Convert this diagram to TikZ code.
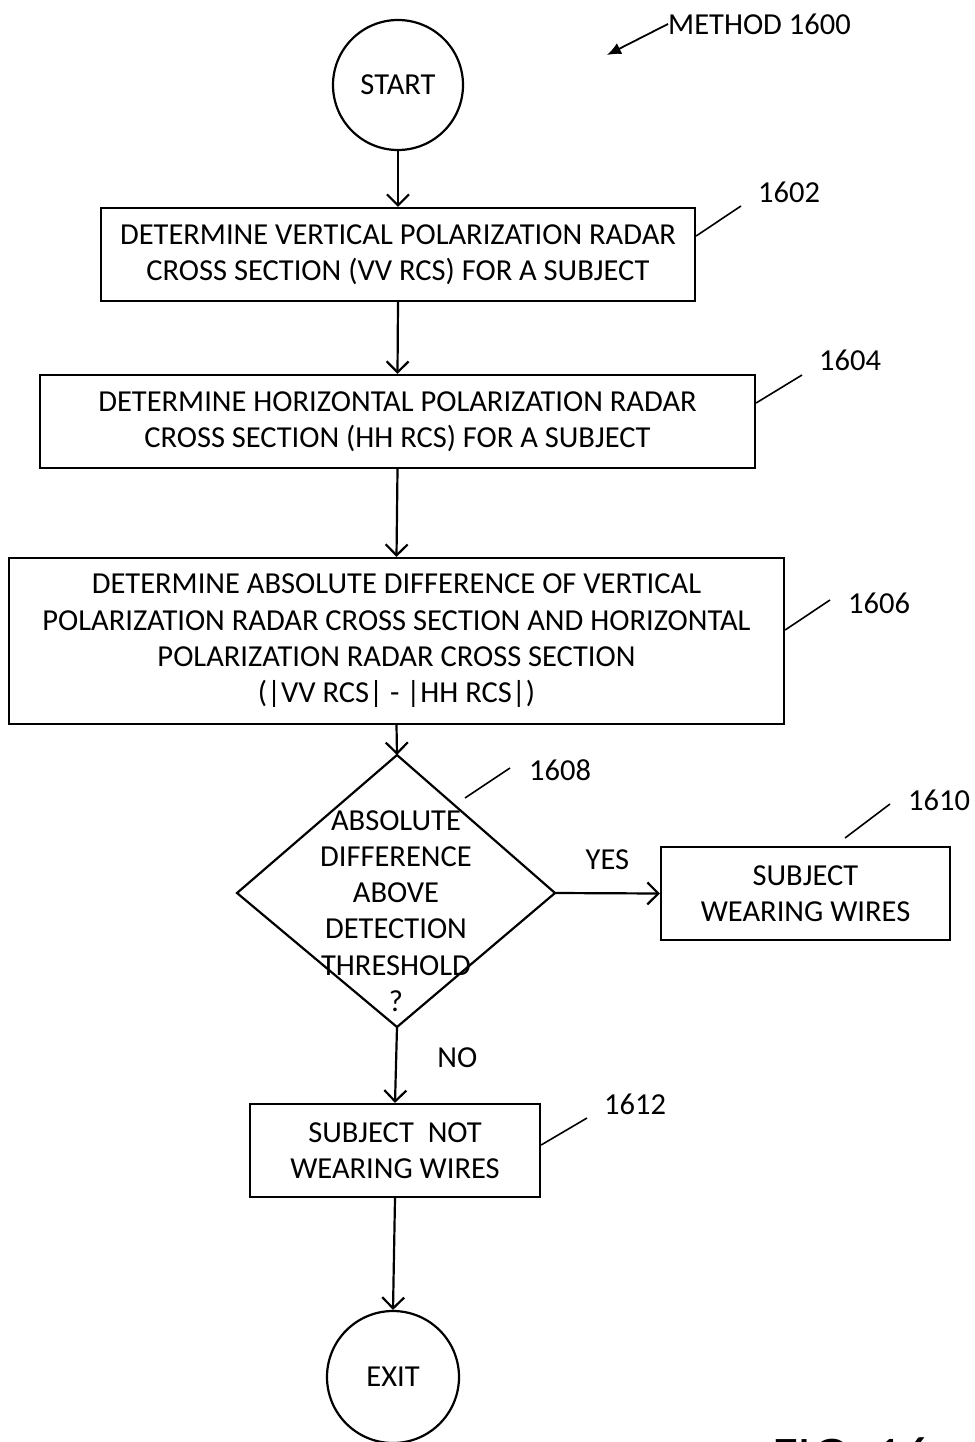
\documentclass[tikz,border=0pt]{standalone}
\usepackage{fontspec}
\setmainfont{Carlito}
\usetikzlibrary{arrows.meta,shapes.geometric}
\begin{document}
\begin{tikzpicture}[x=1pt,y=-1pt,
  every node/.style={font=\fontsize{30.5}{36.3}\selectfont, inner sep=0pt},
  line/.style={line width=2.2pt},
  flow/.style={line width=2.2pt,-{Straight Barb[length=11pt,width=22pt,line width=2.2pt]}},
  boxs/.style={draw,line width=2.2pt,rectangle},
  lead/.style={line width=1.6pt},
  lbl/.style={anchor=west}]
\useasboundingbox (0,0) rectangle (974,1442);
\clip (0,0) rectangle (974,1442);
% START
\node[draw,circle,line width=2.2pt,minimum size=130pt] (start) at (398,85) {START};
% process boxes
\node[boxs,minimum width=594pt,minimum height=93pt,align=center] (b1) at (398,254.5) {DETERMINE VERTICAL POLARIZATION RADAR\\CROSS SECTION (VV RCS) FOR A SUBJECT};
\node[boxs,minimum width=715pt,minimum height=93pt,align=center] (b2) at (397.5,421.5) {DETERMINE HORIZONTAL POLARIZATION RADAR\\CROSS SECTION (HH RCS) FOR A SUBJECT};
\node[boxs,minimum width=775pt,minimum height=166pt,align=center] (b3) at (396.5,641) {DETERMINE ABSOLUTE DIFFERENCE OF VERTICAL\\POLARIZATION RADAR CROSS SECTION AND HORIZONTAL\\POLARIZATION RADAR CROSS SECTION\\(|VV RCS| - |HH RCS|)};
% diamond
\coordinate (dt) at (397,755);
\coordinate (dl) at (237,893);
\coordinate (dr) at (555,893);
\coordinate (db) at (397,1027);
\draw[line] (dt) -- (dr) -- (db) -- (dl) -- cycle;
\node[align=center] (dtext) at (396,911) {ABSOLUTE\\DIFFERENCE\\ABOVE\\DETECTION\\THRESHOLD\\?};
\node[boxs,minimum width=289pt,minimum height=93pt,align=center] (b4) at (805.5,893.5) {SUBJECT\\WEARING WIRES};
\node[boxs,minimum width=290pt,minimum height=93pt,align=center] (b5) at (395,1150.5) {SUBJECT\ \ NOT\\WEARING WIRES};
\node[draw,circle,line width=2.2pt,minimum size=132pt] (exit) at (393,1377) {EXIT};
% connectors
\draw[flow] (start.south) -- (b1.north);
\draw[flow] (b1.south) -- (b2.north);
\draw[flow] (b2.south) -- (b3.north);
\draw[flow] (b3.south) -- (dt);
\draw[flow] (dr) -- (b4.west) node[midway,above=22pt] (yes) {YES};
\draw[flow] (db) -- (b5.north) node[pos=0.4,right=40pt] (no) {NO};
\draw[flow] (b5.south) -- (exit.north);
% reference labels
\node[lbl] (l1602) at (758,192) {1602};
\coordinate (c1602) at (741,206);
\draw[lead] (b1.east |- 0,236) -- (c1602);
\node[lbl] (l1604) at (819,360) {1604};
\coordinate (c1604) at (802,375);
\draw[lead] (b2.east |- 0,403) -- (c1604);
\node[lbl] (l1606) at (848,603) {1606};
\coordinate (c1606) at (830,600);
\draw[lead] (b3.east |- 0,630) -- (c1606);
\node[lbl] (l1608) at (529,770) {1608};
\coordinate (c1608a) at (465,798);
\coordinate (c1608b) at (510,768);
\draw[lead] (c1608a) -- (c1608b);
\node[lbl] (l1610) at (908,800) {1610};
\coordinate (c1610a) at (845,838);
\coordinate (c1610b) at (890,804);
\draw[lead] (c1610a) -- (c1610b);
\node[lbl] (l1612) at (604,1104) {1612};
\coordinate (c1612) at (587,1118);
\draw[lead] (b5.east |- 0,1145) -- (c1612);
% method
\node[lbl] (method) at (668,24) {METHOD 1600};
\coordinate (m1) at (607,55);
\draw[line width=1.8pt,-{Latex[length=14pt,width=12pt]}] (method.west) -- (m1);
% FIG (cut off at the page edge, as in the reference)
\node[anchor=north west,font=\fontsize{56}{56}\selectfont] (fig) at (772,1437) {FIG. 16};
\end{tikzpicture}
\end{document}
